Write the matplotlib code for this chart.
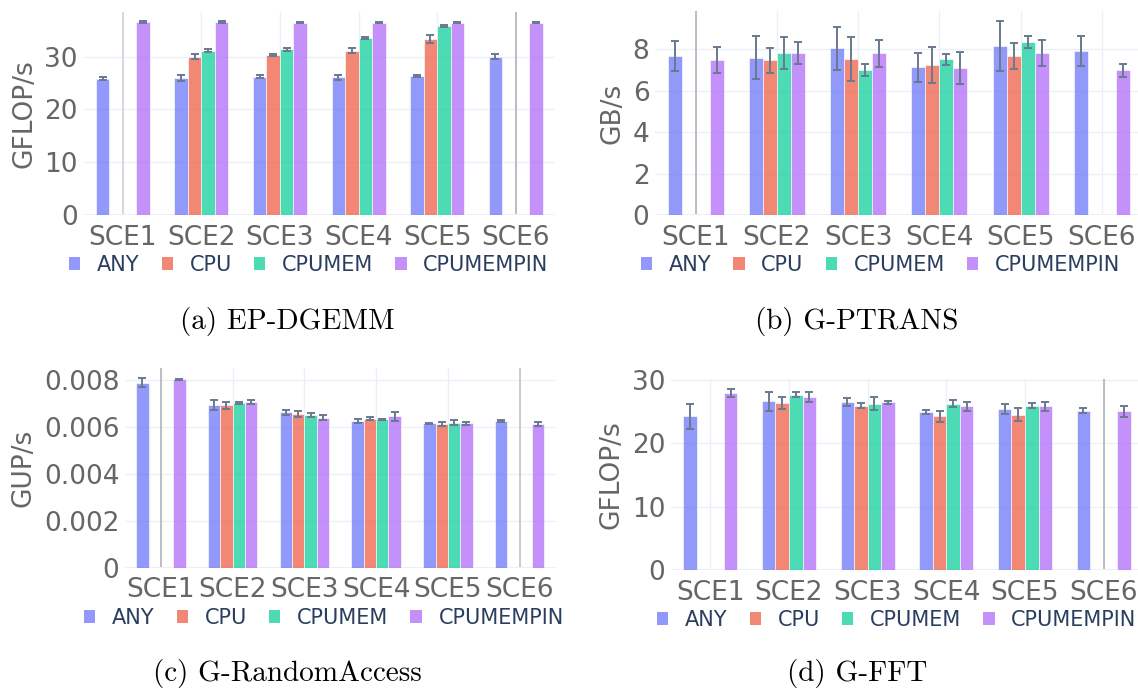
import numpy as np
import matplotlib.pyplot as plt
from matplotlib.patches import Patch

# categories and series
scenarios = ['SCE1', 'SCE2', 'SCE3', 'SCE4', 'SCE5', 'SCE6']
series = ['ANY', 'CPU', 'CPUMEM', 'CPUMEMPIN']
nan = np.nan

# (a) EP-DGEMM, GFLOP/s
dgemm = {
    'ANY':       [25.8, 26.0, 26.15, 26.1, 26.3, 30.0],
    'CPU':       [nan, 30.0, 30.3, 31.1, 33.35, nan],
    'CPUMEM':    [nan, 31.1, 31.4, 33.5, 35.8, nan],
    'CPUMEMPIN': [36.6, 36.5, 36.45, 36.45, 36.45, 36.45],
}
dgemm_err = {
    'ANY':       [0.3, 0.6, 0.3, 0.5, 0.2, 0.5],
    'CPU':       [nan, 0.5, 0.2, 0.5, 0.7, nan],
    'CPUMEM':    [nan, 0.3, 0.3, 0.2, 0.2, nan],
    'CPUMEMPIN': [0.15, 0.15, 0.1, 0.1, 0.15, 0.1],
}

# (b) G-PTRANS, GB/s
ptrans = {
    'ANY':       [7.68, 7.6, 8.04, 7.13, 8.16, 7.91],
    'CPU':       [nan, 7.47, 7.54, 7.25, 7.68, nan],
    'CPUMEM':    [nan, 7.83, 7.0, 7.52, 8.34, nan],
    'CPUMEMPIN': [7.49, 7.83, 7.81, 7.1, 7.84, 6.99],
}
ptrans_err = {
    'ANY':       [0.72, 1.04, 1.05, 0.69, 1.19, 0.72],
    'CPU':       [nan, 0.61, 1.05, 0.87, 0.64, nan],
    'CPUMEM':    [nan, 0.76, 0.31, 0.27, 0.29, nan],
    'CPUMEMPIN': [0.63, 0.54, 0.64, 0.76, 0.63, 0.31],
}

# (c) G-RandomAccess, GUP/s
randacc = {
    'ANY':       [0.00789, 0.00693, 0.00662, 0.00626, 0.00615, 0.00625],
    'CPU':       [nan, 0.00692, 0.00655, 0.00635, 0.00614, nan],
    'CPUMEM':    [nan, 0.00703, 0.00650, 0.00633, 0.00618, nan],
    'CPUMEMPIN': [0.00803, 0.00707, 0.00640, 0.00645, 0.00616, 0.00614],
}
randacc_err = {
    'ANY':       [0.00019, 0.0002, 0.00011, 0.00008, 0.00003, 0.00004],
    'CPU':       [nan, 0.00016, 0.00012, 0.00006, 0.00008, nan],
    'CPUMEM':    [nan, 0.00005, 0.00008, 0.00002, 0.0001, nan],
    'CPUMEMPIN': [0.00002, 0.00008, 0.00009, 0.00019, 0.00006, 0.00008],
}

# (d) G-FFT, GFLOP/s
fft = {
    'ANY':       [24.2, 26.6, 26.5, 24.95, 25.4, 25.1],
    'CPU':       [nan, 26.3, 25.85, 24.2, 24.5, nan],
    'CPUMEM':    [nan, 27.6, 26.2, 26.2, 25.9, nan],
    'CPUMEMPIN': [27.9, 27.3, 26.4, 25.8, 25.8, 25.0],
}
fft_err = {
    'ANY':       [1.95, 1.47, 0.68, 0.34, 0.76, 0.42],
    'CPU':       [nan, 0.95, 0.4, 0.8, 0.97, nan],
    'CPUMEM':    [nan, 0.4, 1.0, 0.52, 0.45, nan],
    'CPUMEMPIN': [0.7, 0.8, 0.24, 0.73, 0.73, 0.92],
}

colors = ['#636EFA', '#EF553B', '#00CC96', '#AB63FA']
grid_c = '#EBF0F8'
tick_c = '#666666'
err_c = (106 / 255, 121 / 255, 143 / 255)

panels = [
    # data, err, ylabel, yticks, ymax, caption, axes rect, legend x, caption xy, dark vlines
    (dgemm, dgemm_err, 'GFLOP/s', [0, 10, 20, 30], 38.5, '(a) EP-DGEMM',
     [83.5, 11.7, 555, 215], 69, (287, 322), {0: '#d6d6dc', 5: '#b8b8bd'}),
    (ptrans, ptrans_err, 'GB/s', [0, 2, 4, 6, 8], 9.85, '(b) G-PTRANS',
     [655, 11, 1142.6, 215], 640.6, (857, 322), {0: '#b8b8bd'}),
    (randacc, randacc_err, 'GUP/s', [0, 0.002, 0.004, 0.006, 0.008], 0.0085,
     '(c) G-RandomAccess', [125, 368.3, 555.5, 567.7], 84, (287, 673),
     {0: '#b8b8bd', 5: '#c8c8cc'}),
    (fft, fft_err, 'GFLOP/s', [0, 10, 20, 30], 30.05, '(d) G-FFT',
     [671, 379.3, 1143, 570], 657, (857, 673), {5: '#b8b8bd'}),
]

W, H = 1138, 688
fig = plt.figure(figsize=(W / 100, H / 100), dpi=100)
x = np.arange(len(scenarios))
bw = 0.172

for data, err, ylabel, yticks, ymax, caption, rect, legx, capxy, dark in panels:
    x0, y0, x1, y1 = rect
    ax = fig.add_axes([x0 / W, 1 - y1 / H, (x1 - x0) / W, (y1 - y0) / H])
    for i, name in enumerate(series):
        pos = x + (i - 1.5) * bw
        ax.bar(pos, data[name], width=bw, color=colors[i], alpha=0.7,
               edgecolor='white', linewidth=0.6, zorder=3)
        ax.errorbar(pos, data[name], yerr=err[name], fmt='none', ecolor=err_c,
                    elinewidth=1.4, capsize=2.6, capthick=1.4, zorder=4)
    ax.set_xlim(-0.5, 5.5)
    ax.set_ylim(0, ymax)
    ax.set_xticks(x)
    ax.set_xticklabels(scenarios)
    ax.set_yticks(yticks)
    ax.set_yticklabels([('%g' % t) for t in yticks])
    ax.tick_params(length=0, labelsize=19, labelcolor=tick_c)
    ax.tick_params(axis='x', pad=7)
    ax.tick_params(axis='y', pad=4)
    ax.grid(True, color=grid_c, linewidth=1, zorder=0)
    ax.set_axisbelow(True)
    for k, c in dark.items():
        ax.axvline(k, color=c, linewidth=1.3, zorder=1)
    ax.axhline(0, color=grid_c, linewidth=2.2, zorder=2)
    for s in ax.spines.values():
        s.set_visible(False)
    ax.set_ylabel(ylabel, fontsize=19, color=tick_c, labelpad=5)

    handles = [Patch(facecolor=c, alpha=0.7, edgecolor='none') for c in colors]
    fig.legend(handles, series, loc='center left',
               bbox_to_anchor=(legx / W, 1 - (y1 + 50) / H),
               ncol=4, frameon=False, fontsize=15, labelcolor='#2a3f5f',
               handlelength=0.55, handleheight=0.55, handletextpad=0.8,
               columnspacing=1.05, borderpad=0, borderaxespad=0)

    fig.text(capxy[0] / W, 1 - capxy[1] / H, caption, family='cmr10',
             fontsize=21, ha='center', va='center', color='black')

fig.savefig('out.png', dpi=100, facecolor='white')
